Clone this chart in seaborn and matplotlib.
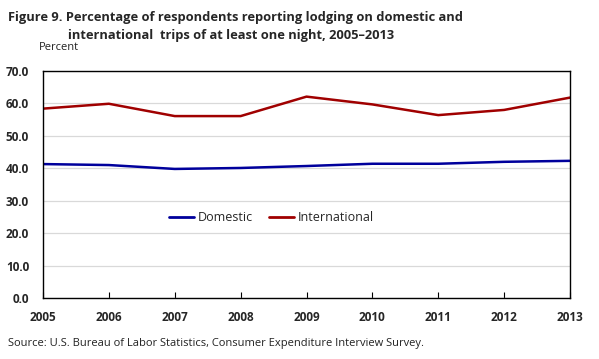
import matplotlib
matplotlib.use("Agg")
import matplotlib.pyplot as plt
import seaborn as sns
import pandas as pd

# values
years = [2005, 2006, 2007, 2008, 2009, 2010, 2011, 2012, 2013]
domestic = [41.3, 41.0, 39.8, 40.1, 40.7, 41.4, 41.4, 42.0, 42.3]
international = [58.4, 59.9, 56.1, 56.1, 62.1, 59.7, 56.4, 58.0, 61.8]
y_ticks = [0, 10, 20, 30, 40, 50, 60, 70]

df = pd.DataFrame({"Year": years, "Domestic": domestic, "International": international})
long_df = df.melt(id_vars="Year", var_name="Type", value_name="Percent")

sns.set_theme(style="white")
plt.rcParams["font.family"] = ["Open Sans", "DejaVu Sans"]

fig = plt.figure(figsize=(5.99, 3.59), dpi=100)
ax = fig.add_axes([0.0718, 0.1699, 0.8798, 0.6323])

sns.lineplot(data=long_df, x="Year", y="Percent", hue="Type",
             palette={"Domestic": "#00009c", "International": "#a00000"},
             linewidth=1.8, ax=ax)

ax.set_xlim(2005, 2013)
ax.set_ylim(0, 70)
ax.set_xticks(years)
ax.set_xticklabels([str(y) for y in years], fontsize=8.5, fontweight="bold")
ax.set_yticks(y_ticks)
ax.set_yticklabels([f"{v:.1f}" for v in y_ticks], fontsize=8.5, fontweight="bold")
ax.yaxis.grid(True, color="#d9d9d9", linewidth=0.9)
ax.set_axisbelow(True)
ax.tick_params(axis="x", direction="in", length=4, width=0.8, color="black", pad=9, bottom=True)
ax.tick_params(axis="y", length=0, pad=10)
for s in ax.spines.values():
    s.set_color("black")
    s.set_linewidth(1.0)
ax.set_xlabel("")
ax.set_ylabel("")

leg = ax.legend(loc="center", bbox_to_anchor=(0.433, 0.355), ncol=2, frameon=False,
                fontsize=9, handlelength=2.0, handletextpad=0.3, columnspacing=1.3)
for line in leg.get_lines():
    line.set_linewidth(2)

fig.text(0.013, 0.952, "Figure 9. Percentage of respondents reporting lodging on domestic and",
         fontsize=9.3, fontweight="bold", va="center", ha="left")
fig.text(0.113, 0.900, "international  trips of at least one night, 2005\u20132013",
         fontsize=9.3, fontweight="bold", va="center", ha="left")
fig.text(0.065, 0.868, "Percent", fontsize=8, va="center", ha="left", color="#222222")
fig.text(0.013, 0.042, "Source: U.S. Bureau of Labor Statistics, Consumer Expenditure Interview Survey.",
         fontsize=8, va="center", ha="left", color="#222222")

fig.savefig("out.png", dpi=100)
